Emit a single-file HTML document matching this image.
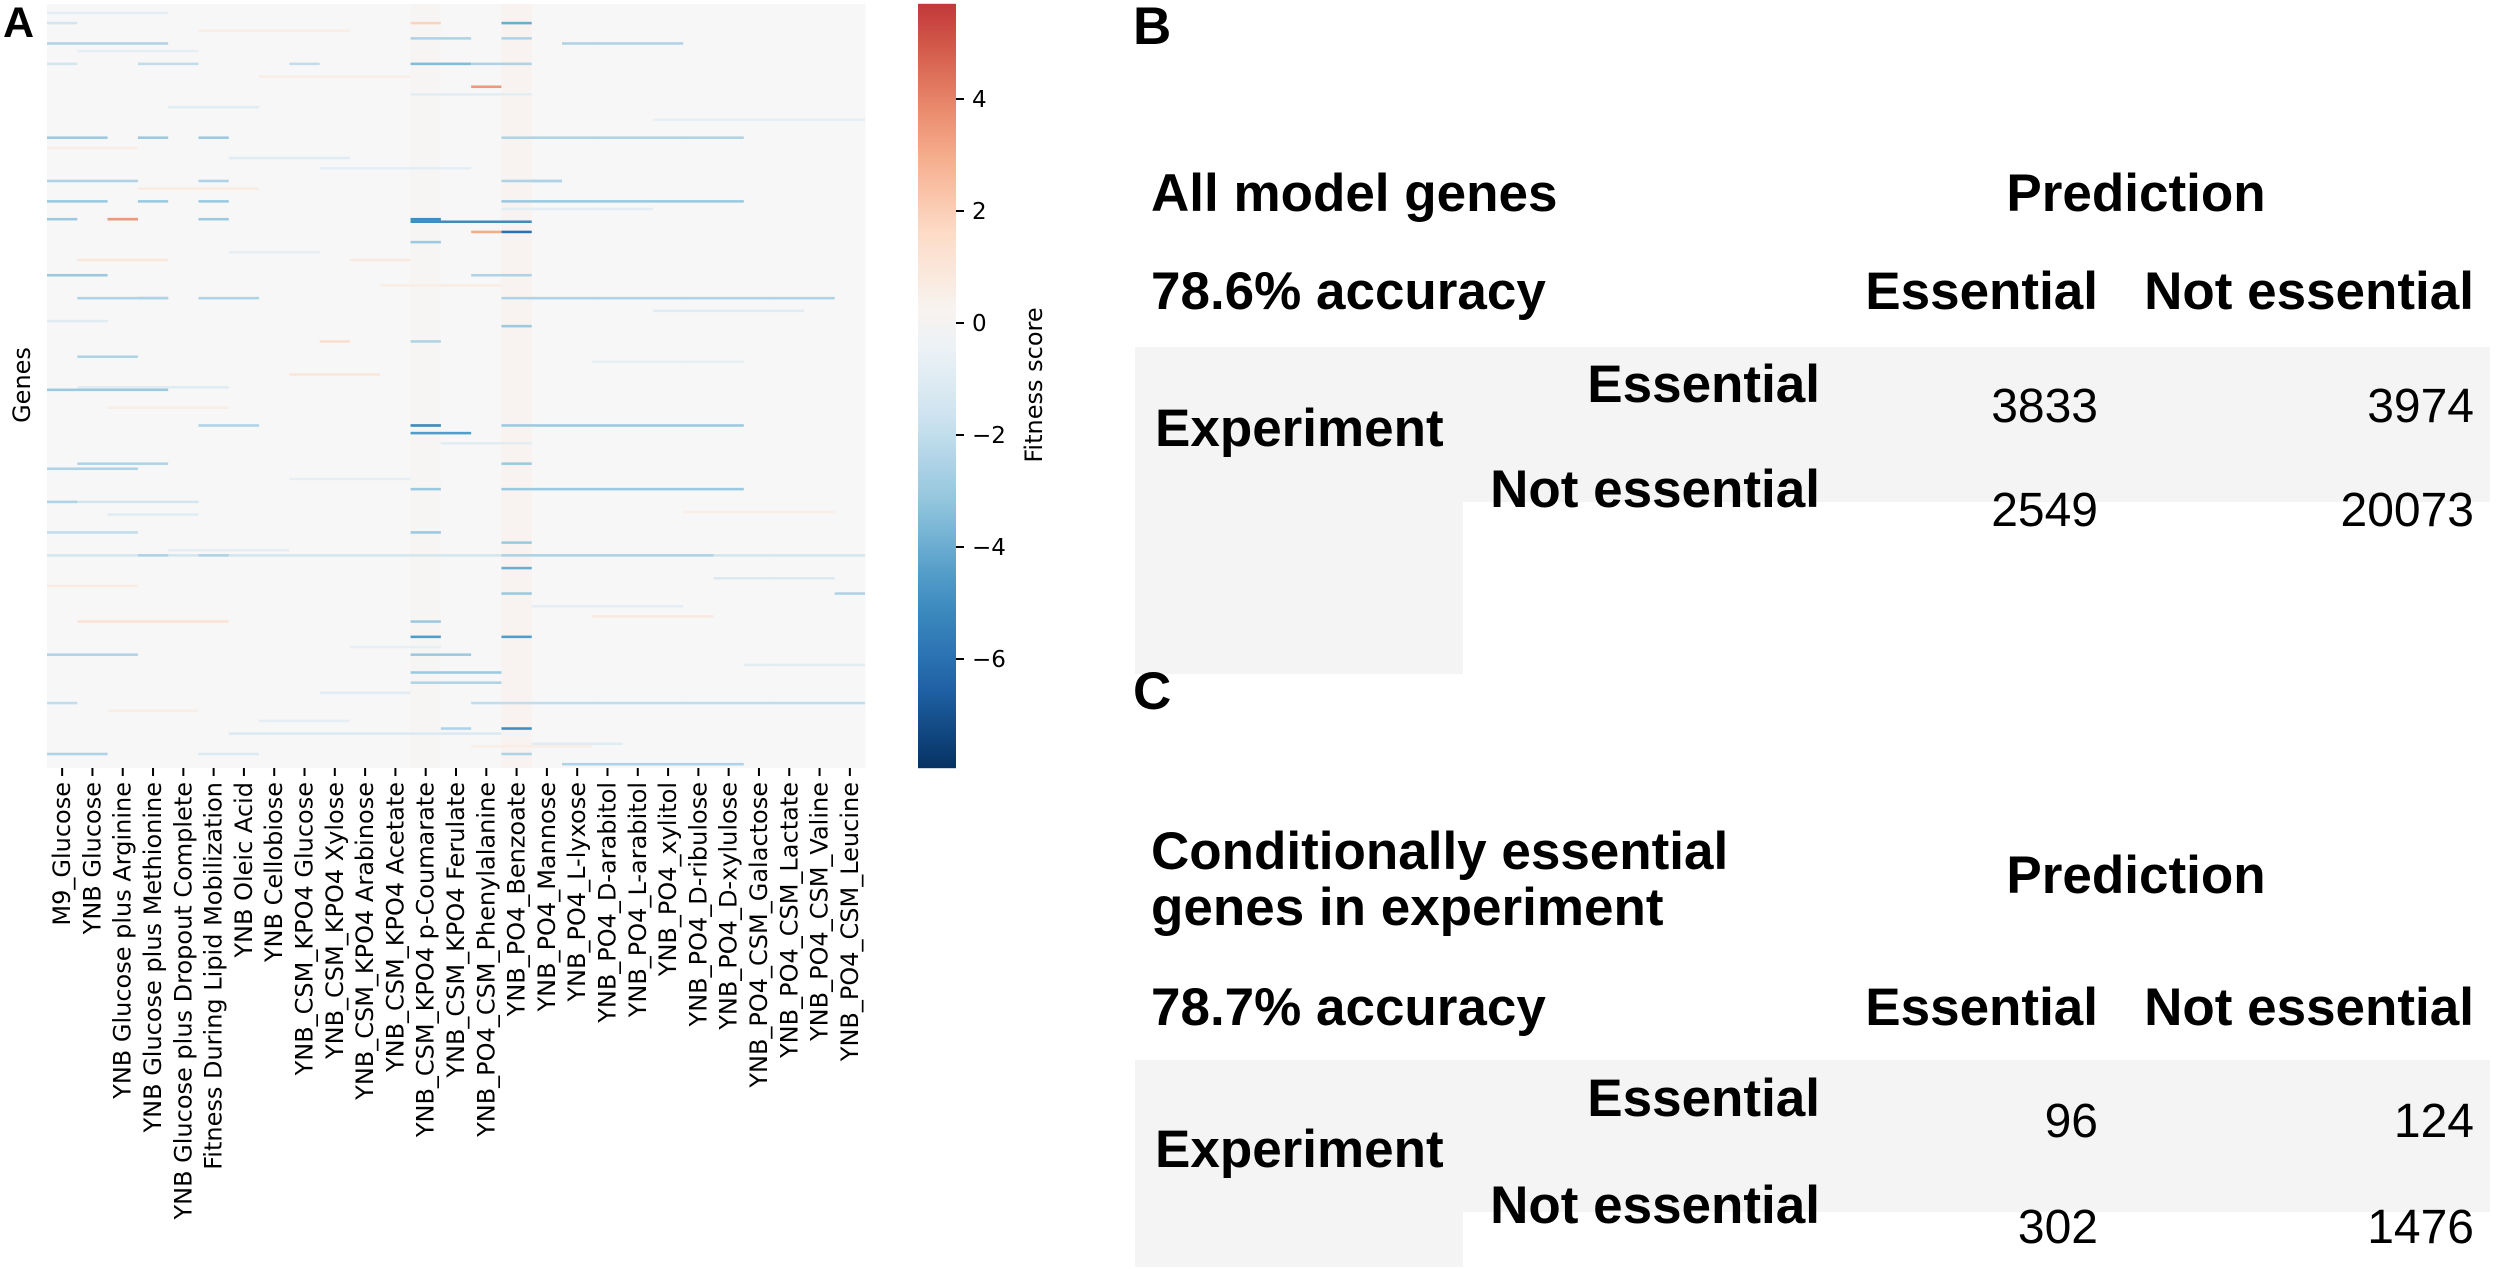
<!DOCTYPE html>
<html><head><meta charset="utf-8"><style>
html,body{margin:0;padding:0;background:#fff;}
svg{display:block;}
.tb{font-family:"Liberation Sans",Arial,sans-serif;font-weight:bold;font-size:53px;fill:#000;}
.tn{font-family:"Liberation Sans",Arial,sans-serif;font-size:48px;fill:#000;}
.mp{font-family:"DejaVu Sans","Liberation Sans",sans-serif;fill:#000;}
</style></head><body>
<svg id="fig" width="2500" height="1269" viewBox="0 0 2500 1269" xmlns="http://www.w3.org/2000/svg">
<g id="panelA">
<text x="3" y="37" font-family="Liberation Sans, sans-serif" font-weight="bold" font-size="43">A</text>
<g id="cells"></g>
<g id="xlabels"></g>
<text class="mp" font-size="24" transform="translate(30,385) rotate(-90)" text-anchor="middle">Genes</text>
<defs><linearGradient id="cbg" x1="0" y1="1" x2="0" y2="0"></linearGradient></defs>
<rect id="cbar" x="918" width="38" fill="url(#cbg)"/>
<g id="cbticks"></g>
<text class="mp" font-size="24" transform="translate(1042,385) rotate(-90)" text-anchor="middle">Fitness score</text>
</g>

<g id="panelB">
<text class="tb" x="1133" y="44" font-size="36">B</text>
<text class="tb" x="1151" y="211">All model genes</text>
<text class="tb" x="2136" y="211" text-anchor="middle">Prediction</text>
<text class="tb" x="1151" y="309">78.6% accuracy</text>
<text class="tb" x="2098" y="309" text-anchor="end">Essential</text>
<text class="tb" x="2474" y="309" text-anchor="end">Not essential</text>
<rect x="1135" y="347" width="1355" height="155" fill="#f4f4f4"/>
<rect x="1135" y="347" width="328" height="327" fill="#f4f4f4"/>
<text class="tb" x="1155" y="446">Experiment</text>
<text class="tb" x="1820" y="402" text-anchor="end">Essential</text>
<text class="tb" x="1820" y="507" text-anchor="end">Not essential</text>
<text class="tn" x="2098" y="422" text-anchor="end">3833</text>
<text class="tn" x="2474" y="422" text-anchor="end">3974</text>
<text class="tn" x="2098" y="526" text-anchor="end">2549</text>
<text class="tn" x="2474" y="526" text-anchor="end">20073</text>
</g>

<g id="panelC">
<text class="tb" x="1133" y="709" font-size="36">C</text>
<text class="tb" x="1151" y="869">Conditionally essential</text>
<text class="tb" x="1151" y="925">genes in experiment</text>
<text class="tb" x="2136" y="893" text-anchor="middle">Prediction</text>
<text class="tb" x="1151" y="1025">78.7% accuracy</text>
<text class="tb" x="2098" y="1025" text-anchor="end">Essential</text>
<text class="tb" x="2474" y="1025" text-anchor="end">Not essential</text>
<rect x="1135" y="1060" width="1355" height="152" fill="#f4f4f4"/>
<rect x="1135" y="1060" width="328" height="207" fill="#f4f4f4"/>
<text class="tb" x="1155" y="1167">Experiment</text>
<text class="tb" x="1820" y="1116" text-anchor="end">Essential</text>
<text class="tb" x="1820" y="1223" text-anchor="end">Not essential</text>
<text class="tn" x="2098" y="1137" text-anchor="end">96</text>
<text class="tn" x="2474" y="1137" text-anchor="end">124</text>
<text class="tn" x="2098" y="1243" text-anchor="end">302</text>
<text class="tn" x="2474" y="1243" text-anchor="end">1476</text>
</g>
</svg>
<script>
const conditions = ["M9_Glucose","YNB Glucose","YNB Glucose plus Arginine","YNB Glucose plus Methionine","YNB Glucose plus Dropout Complete","Fitness During Lipid Mobilization","YNB Oleic Acid","YNB Cellobiose","YNB_CSM_KPO4 Glucose","YNB_CSM_KPO4 Xylose","YNB_CSM_KPO4 Arabinose","YNB_CSM_KPO4 Acetate","YNB_CSM_KPO4 p-Coumarate","YNB_CSM_KPO4 Ferulate","YNB_PO4_CSM_Phenylalanine","YNB_PO4_Benzoate","YNB_PO4_Mannose","YNB_PO4_L-lyxose","YNB_PO4_D-arabitol","YNB_PO4_L-arabitol","YNB_PO4_xylitol","YNB_PO4_D-ribulose","YNB_PO4_D-xylulose","YNB_PO4_CSM_Galactose","YNB_PO4_CSM_Lactate","YNB_PO4_CSM_Valine","YNB_PO4_CSM_Leucine"];
const geneCount = 300;
const columnBase = [0,0,0,0,0,0,0,0,0,0,0,0,0.12,0,0,0.22,0,0,0,0,0,0,0,0,0,0,0];
const segRows = [7,7,7,13,13,15,15,15,23,23,23,23,23,32,52,52,52,52,69,69,69,69,77,77,77,77,84,84,84,84,84,85,89,89,93,106,106,115,115,115,115,126,132,132,138,151,165,165,165,165,168,180,180,182,190,190,195,195,207,207,211,216,216,216,216,221,231,231,242,242,248,248,255,255,262,266,274,274,284,284,286,294,294,294,298,40,60,100,120,145,200,225,240,270,290,100,150,
 3,10,18,28,35,45,56,64,72,80,97,110,124,140,158,172,186,199,214,228,236,252,259,277,281,291];
const segC0 = [0,12,15,12,15,0,17,19,0,3,8,12,14,14,0,3,5,15,0,5,15,16,0,3,5,15,0,2,5,12,2,12,15,14,12,14,0,3,5,15,1,15,9,12,1,0,5,12,15,12,12,15,1,0,15,12,1,0,12,0,15,0,3,5,15,15,15,26,12,1,12,15,0,12,12,12,0,14,13,15,6,0,5,15,17,4,6,10,20,8,2,22,18,9,16,1,1,
 0,5,1,7,12,20,0,9,3,15,6,11,0,18,2,13,8,21,4,0,16,10,23,2,7,14];
const segC1 = [0,12,15,13,15,3,18,20,0,4,8,13,15,14,1,3,5,22,2,5,16,16,1,3,5,22,0,2,5,12,2,15,15,14,12,15,1,3,6,25,3,15,9,12,2,3,6,12,22,12,13,15,3,2,22,12,4,0,12,2,15,26,3,5,21,15,15,26,12,5,12,15,2,13,14,14,0,26,13,15,14,1,6,15,22,6,9,11,24,10,4,25,21,11,18,3,5,
 3,9,4,11,15,26,2,13,6,19,8,14,1,22,5,15,11,25,7,2,20,12,26,4,9,17];
const segVal = [-1.5,1.8,-4,-2.5,-2.5,-2.5,-2.5,-2.5,-1.5,-2,-2,-3.5,-2.5,3.5,-3,-3,-3,-2.5,-2.5,-2.5,-2.5,-2.5,-3,-3,-3,-3,-3,-4,-3,-5,3.5,-5,-6,3,-3,-2.5,-3,-3,-2.5,-2.5,-2.5,-3,1.5,-2.5,-2.5,-3,-2.5,-3.5,-3,-5,-4.5,-3,-2.5,-2.5,-3,-3,-1.5,-2.5,-3,-2,-3,-1.5,-2.5,-2.5,-2.5,-4,-3,-2.5,-3,1.2,-4.5,-4.5,-2.5,-3,-3,-2.5,-2,-2,-2.5,-5,-1.2,-2.5,-1.2,-2.5,-2.5,-1,-1,0.8,-1,1,-1,-1.2,0.8,-1,-1,1,-1,
 -0.8,0.6,-0.8,0.6,-0.9,-0.7,0.6,-0.8,0.7,-0.9,-0.8,0.6,-1,-0.7,0.6,-0.9,-0.7,0.6,-0.8,0.7,-0.8,-0.7,-0.9,0.6,-0.8,0.6];
const cbTickValues = [4,2,0,-2,-4,-6];
const cbTickLabels = ["4","2","0","\u22122","\u22124","\u22126"];
const cbMin = -7.95, cbMax = 5.7;

const NS='http://www.w3.org/2000/svg';
const hx0=47, hx1=865, hy0=4, hy1=768;
const colW=(hx1-hx0)/conditions.length, rowH=(hy1-hy0)/geneCount;
const xOf=c=>hx0+c*colW, yOf=r=>hy0+r*rowH;
const cbY=v=>323 - v*56;
const stops=[[0,'#053061'],[0.1,'#2166ac'],[0.2,'#4393c3'],[0.3,'#92c5de'],[0.4,'#d1e5f0'],[0.5,'#f7f7f7'],[0.6,'#fddbc7'],[0.7,'#f4a582'],[0.8,'#d6604d'],[0.9,'#b2182b'],[1,'#67001f']];
function hex(h){return [1,3,5].map(i=>parseInt(h.substr(i,2),16));}
function cmap(v){let t=Math.max(0,Math.min(1,(v+8)/16));
 for(let i=1;i<stops.length;i++){if(t<=stops[i][0]){const a=hex(stops[i-1][1]),b=hex(stops[i][1]);const f=(t-stops[i-1][0])/(stops[i][0]-stops[i-1][0]);
 return 'rgb('+a.map((x,k)=>Math.round(x+(b[k]-x)*f)).join(',')+')';}}return stops[10][1];}

const cells=document.getElementById('cells');
conditions.forEach((c,i)=>{const r=document.createElementNS(NS,'rect');
 r.setAttribute('x',xOf(i));r.setAttribute('y',hy0);r.setAttribute('width',colW+0.5);r.setAttribute('height',hy1-hy0);
 r.setAttribute('fill',cmap(columnBase[i]));
 
 
 cells.appendChild(r);});
segRows.forEach((row,i)=>{const r=document.createElementNS(NS,'rect');
 r.setAttribute('x',xOf(segC0[i]));r.setAttribute('y',yOf(row));
 r.setAttribute('width',(segC1[i]-segC0[i]+1)*colW);r.setAttribute('height',rowH);
 r.setAttribute('fill',cmap(segVal[i]));
 
 
 cells.appendChild(r);});

const xl=document.getElementById('xlabels');
conditions.forEach((c,i)=>{const cx=xOf(i)+colW/2;
 const t=document.createElementNS(NS,'line');t.setAttribute('x1',cx);t.setAttribute('x2',cx);t.setAttribute('y1',hy1);t.setAttribute('y2',hy1+8);t.setAttribute('stroke','#000');t.setAttribute('stroke-width','2');
 
 
 xl.appendChild(t);
 const tx=document.createElementNS(NS,'text');tx.setAttribute('class','mp');tx.setAttribute('font-size','24');tx.setAttribute('text-anchor','end');
 tx.setAttribute('transform','translate('+(cx+8)+','+(hy1+14)+') rotate(-90)');tx.textContent=c;
 
 
 xl.appendChild(tx);});

const g=document.getElementById('cbg');
for(let k=0;k<=20;k++){const v=cbMin+(cbMax-cbMin)*k/20;const s=document.createElementNS(NS,'stop');s.setAttribute('offset',(k/20));s.setAttribute('stop-color',cmap(v));g.appendChild(s);}
const cb=document.getElementById('cbar');cb.setAttribute('y',cbY(cbMax));cb.setAttribute('height',cbY(cbMin)-cbY(cbMax));
const ct=document.getElementById('cbticks');
cbTickValues.forEach((v,i)=>{const y=cbY(v);
 const l=document.createElementNS(NS,'line');l.setAttribute('x1',956);l.setAttribute('x2',964);l.setAttribute('y1',y);l.setAttribute('y2',y);l.setAttribute('stroke','#000');l.setAttribute('stroke-width','2');
 
 
 ct.appendChild(l);
 const t=document.createElementNS(NS,'text');t.setAttribute('class','mp');t.setAttribute('font-size','23');t.setAttribute('x',972);t.setAttribute('y',y+8);t.textContent=cbTickLabels[i];
 
 
 ct.appendChild(t);});
</script>
</body></html>
